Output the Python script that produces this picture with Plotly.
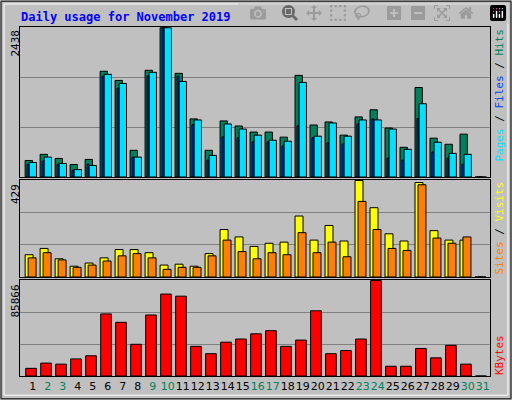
import plotly.graph_objects as go
from plotly.subplots import make_subplots

days = list(range(1, 32))
hits = [270,370,303,204,287,1727,1578,436,1743,2438,1693,949,436,916,833,734,734,651,1660,849,899,684,982,1098,800,485,1462,634,535,700,0]
files = [237,325,221,121,188,1677,1528,325,1710,2438,1561,932,353,866,783,684,601,585,1545,667,883,667,932,932,783,452,1197,568,386,370,0]
pages = [210,259,210,110,210,1649,1451,325,1649,2438,1649,855,276,656,640,574,574,507,838,640,557,541,866,949,309,276,954,408,309,210,0]
visits = [99,127,81,48,62,85,122,122,108,53,57,48,104,211,178,136,150,155,271,164,229,160,429,308,192,160,420,206,164,164,0]
sites = [85,108,76,43,53,71,94,104,85,34,43,43,94,164,113,81,108,99,197,108,155,90,336,211,127,118,410,173,150,178,0]
kbytes = [6895,11596,10656,15357,18177,55785,48264,28519,54845,73649,71769,26639,20058,30400,33220,37921,40742,26639,32280,58605,20058,22878,33220,85866,8775,8775,24758,16297,27579,10656,0]
weekend = {2,3,9,10,16,17,23,24,30,31}
max_hits, max_visits, max_kb = 2438, 429, 85866

fig = make_subplots(rows=3, cols=1, shared_xaxes=True)
line = dict(color="black", width=1)
def bar(y, color, off, w, row):
    fig.add_trace(go.Bar(x=days, y=y, offset=off, width=w, marker=dict(color=color, line=line), hoverinfo="skip"), row=row, col=1)

bar(hits, "#00805C", -0.51, 0.49, 1)
bar(pages, "#0040FF", -0.38, 0.13, 1)
bar(files, "#00E0FF", -0.24, 0.49, 1)
bar(visits, "#FFFF00", -0.51, 0.53, 2)
bar(sites, "#FF8000", -0.31, 0.53, 2)
bar(kbytes, "#FF0000", -0.47, 0.71, 3)

gray = "#C0C0C0"
fig.update_layout(width=512, height=400, margin=dict(l=0, r=0, t=0, b=0),
                  paper_bgcolor=gray, plot_bgcolor=gray, showlegend=False, barmode="overlay",
                  font=dict(family="DejaVu Sans", size=11, color="black"))
doms = [(0.5575, 0.9325), (0.3075, 0.55), (0.06, 0.30)]
maxes = [max_hits, max_visits, max_kb]
for i in range(3):
    r = i + 1
    fig.update_yaxes(row=r, col=1, domain=doms[i], range=[0, maxes[i] * 1.005],
                     tickvals=[maxes[i] / 3, maxes[i] * 2 / 3], showticklabels=False,
                     gridcolor="#808080", showline=True, mirror=True, linecolor="black", zeroline=False)
    fig.update_xaxes(row=r, col=1, domain=[0.04, 0.957], range=[0.18, 31.49], showline=True,
                     mirror=True, linecolor="black", showgrid=False, ticks="", showticklabels=(r == 3))
ticktext = [f"<span style='color:#00805C'>{d}</span>" if d in weekend else str(d) for d in days]
fig.update_xaxes(row=3, col=1, tickvals=days, ticktext=ticktext, tickangle=0,
                 tickfont=dict(size=11, family="DejaVu Sans"))

ann = []
def a(text, x, y, yanchor, color="black"):
    ann.append(dict(text=text, x=x / 512, y=1 - y / 400, xref="paper", yref="paper", showarrow=False,
                    textangle=-90, xanchor="center", yanchor=yanchor,
                    font=dict(family="DejaVu Sans Mono", size=11, color=color)))
a(str(max_hits), 15, 28, "top")
a(str(max_visits), 15, 182, "top")
a(str(max_kb), 15, 283, "top")
a("<span style='color:#00E0FF'>Pages</span> / <span style='color:#0040FF'>Files</span> / <span style='color:#00805C'>Hits</span>", 499, 27, "top")
a("<span style='color:#FF8000'>Sites</span> / <span style='color:#FFFF00'>Visits</span>", 499, 277, "bottom")
a("<span style='color:#FF0000'>KBytes</span>", 499, 377, "bottom")
ann.append(dict(text="<b>Daily usage for November 2019</b>", x=19 / 512, y=1 - 8 / 400, xref="paper", yref="paper",
                showarrow=False, xanchor="left", yanchor="top",
                font=dict(family="DejaVu Sans Mono", size=12, color="#0000FF")))
fig.update_layout(annotations=ann)
fig.add_shape(type="rect", xref="paper", yref="paper", x0=0.002, y0=0.003, x1=0.998, y1=0.997,
              line=dict(color="black", width=1))
fig.add_shape(type="rect", xref="paper", yref="paper", x0=0.008, y0=0.012, x1=0.992, y1=0.99,
              line=dict(color="white", width=1))
fig.write_html("out.html", post_script="document.body.style.margin='0';document.body.style.padding='0';")
